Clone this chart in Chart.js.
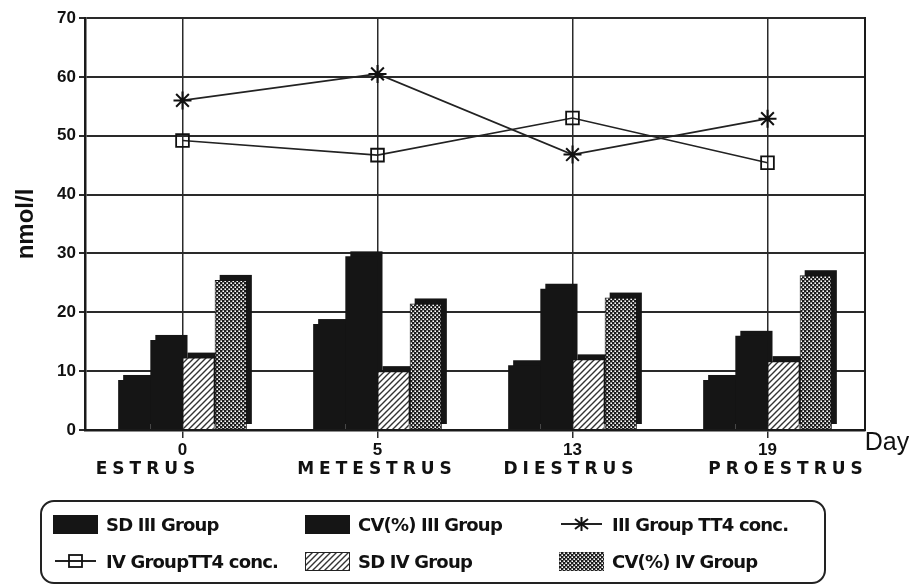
<!DOCTYPE html>
<html>
<head>
<meta charset="utf-8">
<script src="https://cdn.jsdelivr.net/npm/chart.js@4/dist/chart.umd.min.js"></script>
<style>
  html, body { margin: 0; padding: 0; background: #fff; }
  #wrap { position: relative; width: 909px; height: 588px; }
  #legend {
    position: absolute; left: 40px; top: 500px; width: 786px; height: 84px;
    border: 2px solid #222; border-radius: 14px; box-sizing: border-box;
    font: bold 18px "DejaVu Sans", sans-serif; color: #111; letter-spacing: -0.8px;
  }
  .item { position: absolute; height: 22px; display: flex; align-items: center; }
  .sw { width: 45px; height: 19px; margin-right: 8px; box-sizing: border-box; }
  .mk { width: 45px; height: 20px; margin-right: 8px; }
</style>
</head>
<body>
<div id="wrap">
  <canvas id="chart" width="909" height="588"></canvas>
  <div id="legend"></div>
</div>
<script>
const days = ['0', '5', '13', '19'];
const phases = ['ESTRUS', 'METESTRUS', 'DIESTRUS', 'PROESTRUS'];
const sdIII = [8.5, 18, 11, 8.5];
const cvIII = [15.3, 29.5, 24, 16];
const sdIV = [12.3, 10, 12, 11.7];
const cvIV = [25.5, 21.5, 22.5, 26.3];
const tt4III = [56, 60.5, 46.8, 52.9];
const tt4IV = [49.2, 46.7, 53, 45.4];

function hatchPattern() {
  const c = document.createElement('canvas');
  c.width = 6; c.height = 6;
  const g = c.getContext('2d');
  g.fillStyle = '#fff'; g.fillRect(0, 0, 6, 6);
  g.strokeStyle = '#333'; g.lineWidth = 1.4;
  g.beginPath();
  g.moveTo(-1, 1); g.lineTo(1, -1);
  g.moveTo(0, 6); g.lineTo(6, 0);
  g.moveTo(5, 7); g.lineTo(7, 5);
  g.stroke();
  return c;
}
function dotPattern() {
  const c = document.createElement('canvas');
  c.width = 4; c.height = 4;
  const g = c.getContext('2d');
  g.fillStyle = '#1c1c1c'; g.fillRect(0, 0, 4, 4);
  g.fillStyle = '#fff';
  g.fillRect(0.4, 0.4, 1.6, 1.6);
  g.fillRect(2.4, 2.4, 1.6, 1.6);
  return c;
}
const hatchTile = hatchPattern();
const dotTile = dotPattern();
const ctx = document.getElementById('chart').getContext('2d');
const hatch = ctx.createPattern(hatchTile, 'repeat');
const dots = ctx.createPattern(dotTile, 'repeat');

// 3D back face behind each bar
const depth = {
  id: 'depth',
  beforeDatasetsDraw(chart) {
    const c = chart.ctx;
    c.save();
    c.fillStyle = '#151515';
    chart.data.datasets.forEach((ds, i) => {
      if (ds.type !== 'bar') return;
      chart.getDatasetMeta(i).data.forEach(el => {
        const p = el.getProps(['x', 'y', 'base', 'width'], true);
        c.fillRect(p.x - p.width / 2 + 5, p.y - 5, p.width, p.base - p.y);
      });
    });
    c.restore();
  }
};

// phase names under the day ticks, nudged like the original print
const phaseShift = [-37, -3, -4, 18];
const extraText = {
  id: 'extraText',
  afterDraw(chart) {
    const c = chart.ctx;
    const xs = chart.scales.x;
    const a = chart.chartArea;
    c.save();
    c.fillStyle = '#111';
    c.textAlign = 'center';
    c.textBaseline = 'middle';
    c.font = 'bold 17px "DejaVu Sans", sans-serif';
    c.letterSpacing = '5px';
    phases.forEach((p, i) => {
      c.fillText(p, xs.getPixelForTick(i) + 2.5 + phaseShift[i], a.bottom + 40);
    });
    c.letterSpacing = '0px';
    c.font = '25px "Liberation Sans", Arial, sans-serif';
    c.fillText('Day', a.right + 22, a.bottom + 13);
    c.restore();
  }
};

new Chart(ctx, {
  data: {
    labels: days,
    datasets: [
      { type: 'line', label: 'III Group TT4 conc.', data: tt4III, order: 0,
        borderColor: '#222', borderWidth: 1.6, pointStyle: 'star', pointRadius: 9,
        pointBorderColor: '#111', pointBorderWidth: 2, pointBackgroundColor: '#111' },
      { type: 'line', label: 'IV GroupTT4 conc.', data: tt4IV, order: 0,
        borderColor: '#222', borderWidth: 1.6, pointStyle: 'rect', pointRadius: 9,
        pointBorderColor: '#111', pointBorderWidth: 1.8, pointBackgroundColor: 'rgba(0,0,0,0)' },
      { type: 'bar', label: 'SD III Group', data: sdIII, order: 1, backgroundColor: '#151515' },
      { type: 'bar', label: 'CV(%) III Group', data: cvIII, order: 1, backgroundColor: '#151515' },
      { type: 'bar', label: 'SD IV Group', data: sdIV, order: 1, backgroundColor: hatch,
        borderColor: '#151515', borderWidth: 1 },
      { type: 'bar', label: 'CV(%) IV Group', data: cvIV, order: 1, backgroundColor: dots,
        borderColor: '#151515', borderWidth: 1 }
    ]
  },
  options: {
    responsive: false,
    animation: false,
    categoryPercentage: 0.66,
    barPercentage: 1.0,
    layout: { padding: { left: 10, right: 44, top: 18, bottom: 98 } },
    plugins: { legend: { display: false }, tooltip: { enabled: false } },
    scales: {
      x: {
        offset: true,
        afterFit: s => { s.height = 60; },
        grid: { offset: false, color: '#2a2a2a', lineWidth: 1.5, tickLength: 8 },
        border: { color: '#1a1a1a', width: 2.5 },
        ticks: { color: '#111', font: { family: 'Liberation Sans', size: 17, weight: 'bold' }, padding: 2 }
      },
      y: {
        min: 0, max: 70,
        afterFit: s => { s.width = 75; },
        ticks: { stepSize: 10, color: '#111', padding: 3,
          font: { family: 'Liberation Sans', size: 17, weight: 'bold' } },
        grid: { color: '#2a2a2a', lineWidth: 2, tickLength: 6 },
        border: { color: '#1a1a1a', width: 2.5 },
        title: { display: true, text: 'nmol/l', color: '#111', padding: 2,
          font: { family: 'Liberation Sans', size: 24, weight: 'bold' } }
      },
      y2: {
        position: 'right', min: 0, max: 70,
        afterFit: s => { s.width = 0; },
        ticks: { display: false },
        grid: { display: false },
        border: { color: '#1a1a1a', width: 2 }
      }
    }
  },
  plugins: [depth, extraText]
});

// legend
const hatchUrl = hatchTile.toDataURL();
const dotUrl = dotTile.toDataURL();
const starSvg = '<svg class="mk" viewBox="0 0 45 20"><line x1="2" y1="10" x2="43" y2="10" stroke="#222" stroke-width="1.8"/>' +
  '<g stroke="#111" stroke-width="2"><line x1="22.5" y1="3" x2="22.5" y2="17"/><line x1="16" y1="5" x2="29" y2="15"/><line x1="16" y1="15" x2="29" y2="5"/></g></svg>';
const rectSvg = '<svg class="mk" viewBox="0 0 45 20"><line x1="2" y1="10" x2="43" y2="10" stroke="#222" stroke-width="1.8"/>' +
  '<rect x="16" y="4" width="13" height="12" fill="none" stroke="#111" stroke-width="1.8"/></svg>';
const items = [
  { x: 11, y: 11, sw: '<div class="sw" style="background:#151515"></div>', text: 'SD III Group' },
  { x: 263, y: 11, sw: '<div class="sw" style="background:#151515"></div>', text: 'CV(%) III Group' },
  { x: 517, y: 11, sw: starSvg, text: 'III Group TT4 conc.' },
  { x: 11, y: 48, sw: rectSvg, text: 'IV GroupTT4 conc.' },
  { x: 263, y: 48, sw: '<div class="sw" style="border:1px solid #222;background:url(' + hatchUrl + ')"></div>', text: 'SD IV Group' },
  { x: 517, y: 48, sw: '<div class="sw" style="background:url(' + dotUrl + ')"></div>', text: 'CV(%) IV Group' }
];
const lg = document.getElementById('legend');
items.forEach(it => {
  const d = document.createElement('div');
  d.className = 'item';
  d.style.left = it.x + 'px';
  d.style.top = it.y + 'px';
  d.innerHTML = it.sw + '<span>' + it.text + '</span>';
  lg.appendChild(d);
});
</script>
</body>
</html>
